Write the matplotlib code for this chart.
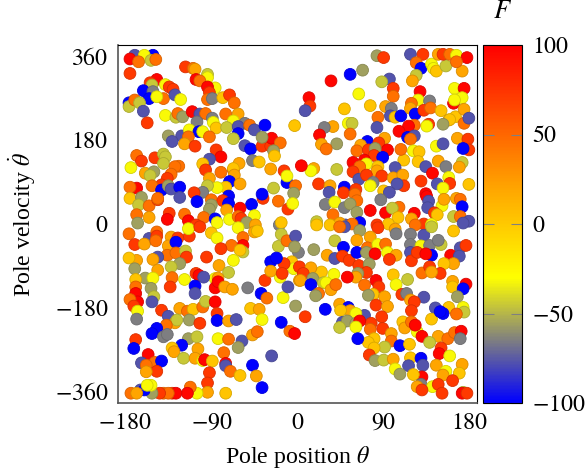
import matplotlib
matplotlib.use('Agg')
import matplotlib.pyplot as plt
from matplotlib.colors import LinearSegmentedColormap, Normalize
import numpy as np

plt.rcParams['font.family'] = 'Liberation Serif'
plt.rcParams['mathtext.fontset'] = 'stix'
plt.rcParams['axes.unicode_minus'] = False

# force levels
B, S, G, O, L, Y, A, N, D, R, X = -100, -77, -65, -56, -45, -32, 3, 20, 45, 72, 97

# upper left
pos_a = [-170,-151,-160,-175,-166,-153,-148,-175,-117,-109,-107,-94,-94,-106,-102,-147,-154,-138,-152,-134,-130,-86,-94,-92,-94,-89,-78,-71,-66,-161,-151,-155,-140,-147,-128,-122,-176,-176,-170,-165,-161,-157,-138,-127,-125,-120,-110,-102,-96,-75,-62,-105,-89,-88,-85,-67,-74,-55,-62,-62,-50,-45,-34,-3,-67,-135,-121,-131,-113,-103,-99,-92,-114,-118,-107,-85,-80,-92,-99,-96,-80,-92,-67,-61,-67,-66,-71,-60,-75,-84,-94,-99,-108,-105,-90,-72,-78,-72,-90,-92,-74,-48,-55,-49,-47,-40,-28,-14,-11,-11,-37,-28,-27,-18,-37,-25,-24,-25,-36,-37,-20,-2,-4,-10,-5,-168,-163,-174,-149,-140,-138,-140,-159,-150,-154,-124,-128,-132,-136,-142,-152,-168,-175,-142,-135,-132,-123,-123,-175,-163,-166,-155,-146,-146,-168,-155,-167,-134,-136,-118,-114,-98,-106,-86,-84,-71,-60,-62,-59,-45,-53,-44,-19,-17]
vel_a = [362,362,362,354,348,351,353,323,337,334,332,321,314,310,307,310,303,299,298,294,289,292,294,282,267,269,271,277,260,286,284,269,269,273,277,267,260,252,266,260,242,217,233,229,237,230,241,236,237,236,236,219,227,218,206,221,207,216,209,194,212,202,212,211,183,189,189,177,202,198,198,187,187,172,167,159,144,139,129,116,111,98,116,130,119,105,91,86,79,78,82,68,67,48,52,60,50,44,41,32,30,42,168,161,136,133,118,114,89,103,167,167,184,174,186,157,146,77,55,64,49,82,66,32,44,147,135,121,142,150,144,130,109,112,104,124,123,107,98,84,82,77,79,73,82,75,79,57,55,57,41,39,52,55,20,14,2,23,10,21,7,14,-2,11,3,10,34,16,12,18,3,-2,-2,3]
force_a = [S,B,Y,X,D,L,D,R,R,D,N,L,Y,X,D,X,R,Y,L,R,R,Y,X,R,D,G,A,R,D,B,G,B,D,Y,S,Y,B,L,D,L,S,R,Y,L,D,O,X,S,D,D,N,G,G,Y,A,Y,L,G,S,B,D,S,B,A,L,O,S,S,Y,B,Y,D,D,N,R,R,X,S,A,R,D,N,R,N,A,N,B,N,A,Y,L,G,R,B,D,B,R,B,O,O,N,B,S,B,G,A,N,R,B,Y,R,R,X,D,O,O,A,L,R,B,D,D,O,R,Y,D,R,Y,R,L,L,L,N,O,L,D,D,D,R,R,D,X,D,B,O,S,B,S,A,O,L,D,R,D,D,N,O,R,X,D,X,D,R,B,Y,Y,X,D,R,Y,O,N,G,A]

# upper right
pos_b = [83,90,118,131,124,129,140,142,145,155,147,152,159,166,177,172,166,55,35,68,96,88,124,120,100,100,64,76,49,12,13,8,128,126,138,164,174,172,163,164,92,98,97,102,108,119,118,123,132,139,150,165,158,159,152,174,174,179,84,83,137,135,122,116,106,115,122,118,53,57,37,28,23,55,41,25,30,73,91,85,66,94,62,74,81,80,89,70,72,58,65,58,84,83,111,108,121,127,126,147,145,152,167,178,179,173,172,169,155,134,141,102,64,72,88,100,110,79,76,129,146,158,159,152,179,41,17,14,4,22,34,49,33,48,61,60,62,111,104,90,96,87,29,39,49,55,62,37,76,92,106,99,105,20,122,119,134,135,137,151,153,136,143,146,163,166,170,172,170,179,173,50,65,44,20,34,57,83,132,123,140,95]
vel_b = [361,357,364,364,346,334,343,334,328,339,364,364,364,362,357,328,348,321,307,330,311,305,319,307,291,274,279,254,247,271,253,243,284,266,264,291,291,271,259,266,252,248,232,229,232,259,248,236,244,249,243,230,223,224,214,216,246,227,229,207,214,210,212,210,199,186,189,182,216,216,209,207,191,193,172,171,161,177,184,174,169,159,157,159,162,147,143,137,129,132,123,112,123,114,137,160,157,155,134,135,167,172,184,182,159,162,132,122,123,123,109,121,96,105,103,99,105,89,82,92,86,100,87,77,85,117,119,114,125,86,82,79,68,67,74,64,50,82,86,71,68,52,42,47,35,43,25,20,29,24,36,34,14,5,23,11,65,59,49,39,53,35,24,20,16,55,53,37,16,6,2,-2,3,2,-2,-2,0,-2,0,-2,-1,0]
force_b = [O,R,S,R,D,B,Y,Y,A,L,N,R,D,Y,X,N,D,B,X,O,S,L,L,N,R,D,Y,A,A,X,R,S,X,Y,G,Y,X,Y,X,Y,N,G,S,A,B,D,N,B,R,D,A,A,N,A,O,D,N,S,D,S,R,Y,D,X,X,B,S,D,Y,L,N,G,X,D,O,N,D,B,N,R,N,X,D,R,O,R,B,X,Y,X,D,R,A,N,A,D,Y,A,A,N,Y,S,N,R,R,B,L,N,G,S,X,S,S,R,R,N,N,G,Y,R,S,Y,R,Y,A,L,N,Y,X,R,N,B,S,R,R,D,D,R,S,A,S,G,G,Y,G,O,O,D,X,X,D,L,A,L,X,N,X,X,S,Y,N,S,R,A,L,N,D,B,D,S,S,S,B,N,A,A,D,R,R,D,Y,A]

# lower left
pos_c = [-176,-155,-147,-147,-170,-160,-148,-132,-125,-113,-114,-102,-90,-84,-62,-45,-42,-57,-57,-69,-80,-57,-60,-135,-127,-136,-127,-117,-116,-123,-132,-146,-151,-168,-176,-95,-67,-82,-72,-86,-83,-170,-146,-159,-151,-169,-131,-118,-106,-103,-98,-133,-107,-107,-86,-83,-76,-68,-52,-38,-32,-15,-34,-18,-10,2,-169,-153,-169,-150,-167,-175,-171,-167,-152,-168,-142,-123,-135,-115,-109,-99,-96,-86,-84,-84,-72,-64,-49,-40,-37,-17,-2,-128,-126,-113,-102,-137,-147,-152,-140,-136,-169,-171,-114,-105,-83,-72,-58,-62,-47,-42,-8,-3,-121,-131,-129,-104,-119,-107,-99,-97,-89,-77,-75,-75,-70,-60,-47,-43,-27,-156,-163,-149,-142,-158,-147,-158,-92,-94,-37,-75,-94,-105,-140,-131,-112,-115,-127,-135,-144,-152,-164,-160,-153,-157,-174,-168,-17,-20,-11,-2,1,-3,-6,-4,-14,-28,-22,-28,-16,2]
vel_c = [-21,-31,-17,-26,-44,-43,-36,-28,-30,-26,-10,-6,-19,-30,-8,-17,-15,-29,-46,-46,-53,-60,-56,-47,-39,-67,-62,-58,-71,-85,-92,-71,-76,-78,-73,-71,-78,-89,-104,-117,-116,-96,-99,-116,-116,-119,-115,-119,-106,-110,-114,-135,-133,-149,-137,-124,-135,-140,-137,-149,-159,-158,-121,-114,-135,-121,-135,-138,-149,-156,-167,-162,-176,-187,-167,-204,-185,-181,-198,-187,-183,-178,-166,-167,-192,-207,-208,-205,-181,-183,-205,-211,-176,-212,-206,-206,-213,-217,-224,-235,-242,-237,-248,-267,-246,-242,-246,-247,-251,-265,-238,-231,-230,-235,-260,-266,-274,-268,-288,-288,-293,-291,-294,-276,-299,-304,-316,-325,-303,-326,-283,-280,-298,-297,-294,-303,-316,-317,-319,-341,-351,-363,-361,-363,-363,-363,-350,-363,-363,-363,-363,-363,-356,-356,-346,-346,-363,-363,-22,-48,-36,-26,-61,-49,-81,-96,-85,-81,-73,-101,-106,-92]
force_c = [D,S,D,R,R,N,D,N,R,R,Y,R,A,Y,Y,N,A,D,X,D,R,L,A,N,B,D,D,L,R,O,L,S,N,N,A,R,Y,N,L,Y,N,O,N,O,Y,A,D,Y,R,X,S,R,B,S,X,X,N,N,G,B,D,Y,R,Y,S,N,D,O,X,L,X,D,R,Y,S,G,R,N,S,D,A,D,L,X,R,B,N,S,A,N,Y,B,O,N,L,O,R,D,B,B,G,G,R,B,O,L,Y,D,S,O,N,D,D,X,B,A,N,N,L,N,Y,X,A,D,X,S,D,A,B,N,S,X,S,D,B,D,R,N,R,R,B,A,N,Y,D,R,D,X,X,D,R,O,S,B,Y,Y,D,N,L,L,D,S,G,O,A,Y,R,B,B,N,R,R]

# lower right
pos_d = [49,44,65,84,102,103,118,132,140,163,76,62,39,17,48,73,84,92,118,129,138,150,147,170,176,31,39,47,54,62,72,81,94,103,96,118,119,125,140,134,160,169,163,153,64,75,72,63,61,52,38,25,14,6,3,16,27,30,35,40,14,22,19,100,103,115,130,138,149,140,70,82,85,79,74,91,109,114,132,162,162,176,173,167,82,94,118,122,119,144,158,173,174,166,140,152,149,29,8,44,53,55,45,70,61,88,77,47,52,61,65,44,61,76,89,110,112,119,125,123,130,98,80,74,98,63,147,157,164,171,170,138,150,148,159,107,117,91,80,75,81,90,100,118,129,131,116,102,107,145,172,169,155,152,162,130,121,129,125,141,147,151,130,173,172,177]
vel_d = [-6,-6,-14,-8,-11,-21,-22,-24,-6,-15,-28,-35,-36,-55,-50,-51,-44,-43,-44,-47,-46,-44,-35,-51,-46,-67,-74,-69,-78,-61,-61,-64,-61,-67,-76,-61,-79,-61,-67,-64,-67,-69,-85,-85,-89,-86,-104,-106,-114,-114,-108,-103,-94,-106,-121,-117,-126,-126,-141,-130,-130,-149,-154,-109,-130,-119,-105,-92,-106,-103,-131,-121,-135,-151,-153,-156,-151,-149,-157,-123,-135,-129,-139,-156,-174,-177,-163,-167,-186,-180,-179,-179,-189,-193,-204,-192,-188,-183,-199,-172,-179,-186,-185,-196,-192,-199,-213,-211,-208,-213,-208,-222,-221,-226,-224,-210,-223,-210,-231,-217,-241,-235,-246,-254,-251,-246,-241,-246,-233,-230,-246,-254,-266,-278,-283,-261,-258,-264,-266,-281,-293,-292,-290,-287,-288,-303,-304,-311,-322,-303,-301,-320,-316,-324,-336,-328,-323,-344,-349,-349,-344,-363,-356,-361,-363,-363]
force_d = [S,D,O,R,N,G,G,S,L,A,N,N,L,O,B,D,Y,D,G,Y,G,L,G,S,R,N,S,R,R,B,O,X,Y,N,R,S,R,R,B,X,X,S,N,A,R,O,R,O,N,X,Y,A,N,R,N,O,L,Y,N,D,B,D,O,A,Y,L,D,R,R,N,D,X,R,A,O,N,R,G,S,N,A,X,B,O,R,N,N,R,R,S,A,Y,L,D,A,B,B,B,R,N,B,N,A,S,Y,R,R,S,O,O,X,L,Y,D,R,A,N,D,Y,X,X,N,A,A,D,B,N,D,D,X,G,L,R,X,Y,B,A,L,A,R,O,L,N,A,B,S,S,Y,O,N,N,A,Y,N,R,X,A,G,N,Y,R,R,R,L,X,R]

assert len(pos_a) == len(vel_a) == len(force_a), (len(pos_a), len(vel_a), len(force_a))
assert len(pos_b) == len(vel_b) == len(force_b), (len(pos_b), len(vel_b), len(force_b))
assert len(pos_c) == len(vel_c) == len(force_c), (len(pos_c), len(vel_c), len(force_c))
assert len(pos_d) == len(vel_d) == len(force_d), (len(pos_d), len(vel_d), len(force_d))

theta = np.array(pos_a + pos_b + pos_c + pos_d)
theta_dot = np.array(vel_a + vel_b + vel_c + vel_d)
force = np.array(force_a + force_b + force_c + force_d)

cmap = LinearSegmentedColormap.from_list('force', [(0, 'blue'), (0.35, 'yellow'), (0.6, 'orange'), (1, 'red')])
norm = Normalize(-100, 100)

fig = plt.figure(figsize=(5.86, 4.76), dpi=100)
ax = fig.add_axes([118/586, 1-403/476, 359/586, 358/476])
edge = cmap(norm(force))
edge[:, :3] *= 0.85
sc = ax.scatter(theta, theta_dot, c=force, cmap=cmap, norm=norm, s=72, edgecolors=edge, linewidths=0.6, zorder=3)
ax.set_xlim(-187.5, 187.5)
ax.set_ylim(-384, 384)
ax.set_xticks([-180, -90, 0, 90, 180])
ax.set_xticklabels(['$-180$', '$-90$', '$0$', '$90$', '$180$'], fontsize=17.2)
ax.set_yticks([-360, -180, 0, 180, 360])
ax.set_yticklabels(['$-360$', '$-180$', '$0$', '$180$', '$360$'], fontsize=17.2)
ax.tick_params(length=0, pad=7)
for side in ['left', 'bottom']:
    ax.spines[side].set_color('#555555')
    ax.spines[side].set_linewidth(1.2)
ax.set_xlabel(r'Pole position $\theta$', fontsize=17.2, va='center')
ax.set_ylabel(r'Pole velocity $\dot{\theta}$', fontsize=17.2, va='center')
ax.xaxis.set_label_coords(0.5, -0.151)
ax.yaxis.set_label_coords(-0.265, 0.5)

cax = fig.add_axes([483/586, 1-403/476, 39/586, 358/476])
cb = fig.colorbar(sc, cax=cax)
cb.set_ticks([-100, -50, 0, 50, 100])
cb.set_ticklabels(['$-100$', '$-50$', '$0$', '$50$', '$100$'], fontsize=17.2)
cb.ax.tick_params(direction='in', length=8, width=0.8, color='gray', left=True, right=True, pad=7)
fig.text(503/586, 1-12/476, '$F$', fontsize=19, ha='center', va='center')

fig.savefig('out.png', dpi=100)
